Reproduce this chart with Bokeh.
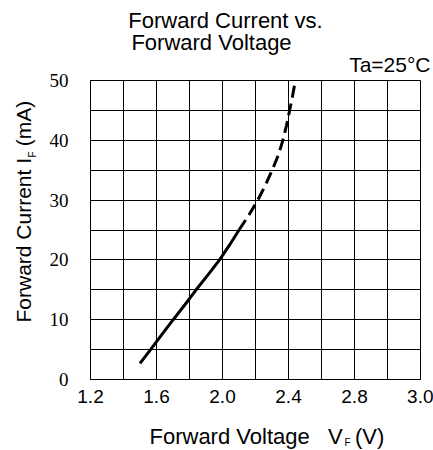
import math
from bokeh.plotting import figure
from bokeh.models import Range1d, FixedTicker, Label
from bokeh.embed import file_html
from bokeh.resources import INLINE

# ---- data ----
vf_solid = [1.50, 1.564, 1.632, 1.701, 1.772, 1.840, 1.912, 1.982, 2.043, 2.100]
if_solid = [2.7, 5.0, 7.5, 10.0, 12.5, 15.0, 17.5, 20.0, 22.5, 25.0]
vf_dash = [2.100, 2.160, 2.214, 2.260, 2.301, 2.338, 2.366, 2.388, 2.407, 2.425, 2.442]
if_dash = [25.0, 27.5, 30.0, 32.5, 35.0, 37.5, 40.0, 42.5, 45.0, 47.5, 50.0]

x_tick_values = [1.2, 1.6, 2.0, 2.4, 2.8, 3.2]
x_tick_labels = ["1.2", "1.6", "2.0", "2.4", "2.8", "3.0"]
x_grid_values = [1.2, 1.4, 1.6, 1.8, 2.0, 2.2, 2.4, 2.6, 2.8, 3.0, 3.2]
y_tick_values = [0, 10, 20, 30, 40, 50]
y_grid_values = [0, 5, 10, 15, 20, 25, 30, 35, 40, 45, 50]

NB = "\u00a0"  # non-breaking space (not collapsed in SVG text)
title_line1 = "Forward Current vs."
title_line2 = "Forward Voltage"
condition = "Ta=25°C"
x_label = "Forward Voltage" + NB * 3 + "V" + NB * 2 + "(V)"
y_label = "Forward Current I" + NB * 2 + "(mA)"
sub_f = "F"

SANS = "Liberation Sans"
SERIF = "Liberation Serif"

p = figure(width=433, height=450, output_backend="svg", toolbar_location=None,
           x_range=Range1d(1.2, 3.2), y_range=Range1d(0, 50),
           min_border_left=90, min_border_right=13, min_border_top=80,
           min_border_bottom=71)
p.title.visible = False
p.background_fill_color = "white"
p.border_fill_color = "white"
p.outline_line_color = "black"
p.outline_line_width = 1
p.outline_line_alpha = 1

# grids
p.xgrid.ticker = FixedTicker(ticks=x_grid_values)
p.ygrid.ticker = FixedTicker(ticks=y_grid_values)
for g in (p.xgrid, p.ygrid):
    g.grid_line_color = "black"
    g.grid_line_alpha = 1
    g.grid_line_width = 1

# axes
p.xaxis.ticker = FixedTicker(ticks=x_tick_values)
p.xaxis.major_label_overrides = {v: s for v, s in zip(x_tick_values, x_tick_labels)}
p.yaxis.ticker = FixedTicker(ticks=y_tick_values)
for ax in (p.xaxis, p.yaxis):
    ax.major_tick_in = 0
    ax.major_tick_out = 0
    ax.minor_tick_in = 0
    ax.minor_tick_out = 0
    ax.axis_line_color = "black"
    ax.major_label_text_color = "black"
p.xaxis.major_label_text_font = SANS
p.xaxis.major_label_text_font_size = "19px"
p.xaxis.major_label_standoff = 10
p.yaxis.major_label_text_font = SERIF
p.yaxis.major_label_text_font_size = "19px"
p.yaxis.major_label_standoff = 22

# curve
p.line(vf_solid, if_solid, line_width=3, line_color="black")
p.line(vf_dash, if_dash, line_width=3, line_color="black", line_dash="12 6")


def lab(side, text, x, y, size, align="left", angle=0.0):
    p.add_layout(Label(x=x, y=y, x_units="canvas", y_units="canvas", text=text,
                       text_font=SANS, text_font_size=size, text_color="black",
                       text_align=align, text_baseline="alphabetic", angle=angle),
                 side)


# titles (canvas pixels, y from the top)
lab("above", title_line1, 225, 20, "22px", align="center")
lab("above", title_line2, 211, 42, "22px", align="center")
lab("above", condition, 430, 64, "21px", align="right")

# x axis title with subscript
lab("below", x_label, 149, 436, "22px")
lab("below", sub_f, 344, 442, "10px")

# y axis title with subscript (rotated)
rot = math.pi / 2
lab("left", y_label, 23, 322, "21px", angle=rot)
lab("left", sub_f, 32, 157, "10px", angle=rot)

open("out.html", "w").write(file_html(p, INLINE))
